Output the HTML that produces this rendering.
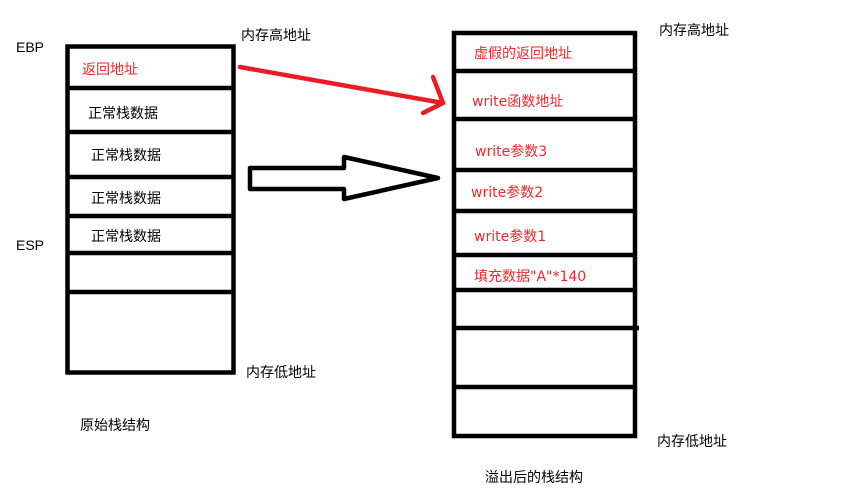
<!DOCTYPE html>
<html><head><meta charset="utf-8"><style>
html,body{margin:0;padding:0;background:#fff;}
svg text{font-family:"Liberation Sans","Noto Sans CJK SC",sans-serif;font-size:14px;}
svg text.w{font-family:"DejaVu Sans","Noto Sans CJK SC",sans-serif;font-size:14px;}
.r{fill:#f0282d;}
.k{fill:#000;}
</style></head><body>
<svg width="846" height="490" xmlns="http://www.w3.org/2000/svg">
<rect width="846" height="490" fill="#fff"/>
<g stroke="#000" stroke-width="4.5" fill="none">
<rect x="67.5" y="46.5" width="166" height="326"/>
<line x1="67" y1="88" x2="234" y2="88"/>
<line x1="67" y1="132" x2="234" y2="132"/>
<line x1="67" y1="177" x2="234" y2="177"/>
<line x1="67" y1="216" x2="234" y2="216"/>
<line x1="67" y1="253" x2="234" y2="253"/>
<line x1="67" y1="292" x2="234" y2="292"/>
<rect x="454" y="33" width="181" height="403"/>
<line x1="452" y1="71" x2="637" y2="71"/>
<line x1="452" y1="119" x2="637" y2="119"/>
<line x1="452" y1="170" x2="637" y2="170"/>
<line x1="452" y1="211" x2="637" y2="211"/>
<line x1="452" y1="255" x2="637" y2="255"/>
<line x1="452" y1="290" x2="637" y2="290"/>
<line x1="452" y1="328" x2="639" y2="328"/>
<line x1="452" y1="387" x2="637" y2="387"/>
<polygon points="250,168 344,168 344,157 438,178 344,199 344,189 250,189" stroke-linejoin="round"/>
</g>
<g stroke="#ec1c24" stroke-width="4.5" fill="none" stroke-linecap="round" stroke-linejoin="round">
<line x1="240" y1="67" x2="443" y2="103"/>
<polyline points="433,77 443,103 423,113"/>
</g>
<text class="k" x="16" y="52">EBP</text>
<text class="k" x="16" y="250">ESP</text>
<text class="r" x="82" y="74">返回地址</text>
<text class="k" x="88" y="118">正常栈数据</text>
<text class="k" x="91" y="160">正常栈数据</text>
<text class="k" x="91" y="203">正常栈数据</text>
<text class="k" x="91" y="241">正常栈数据</text>
<text class="k" x="241" y="40">内存高地址</text>
<text class="k" x="246" y="377">内存低地址</text>
<text class="k" x="80" y="430">原始栈结构</text>
<text class="r" x="474" y="58">虚假的返回地址</text>
<text class="r w" x="472" y="106">write函数地址</text>
<text class="r w" x="475" y="156">write参数3</text>
<text class="r w" x="471" y="197">write参数2</text>
<text class="r w" x="474" y="241">write参数1</text>
<text class="r w" x="474" y="281">填充数据"A"*140</text>
<text class="k" x="659" y="35">内存高地址</text>
<text class="k" x="657" y="446">内存低地址</text>
<text class="k" x="485" y="482">溢出后的栈结构</text>
</svg>
</body></html>
